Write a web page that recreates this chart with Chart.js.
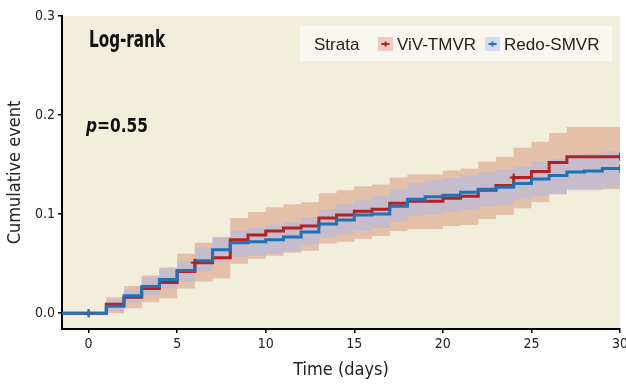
<!DOCTYPE html>
<html>
<head>
<meta charset="utf-8">
<script src="https://cdn.jsdelivr.net/npm/chart.js@4.4.1/dist/chart.umd.min.js"></script>
<style>
  html, body { margin: 0; padding: 0; background: #fff; }
  #wrap { width: 626px; height: 389px; }
</style>
</head>
<body>
<div id="wrap"><canvas id="km" width="626" height="389"></canvas></div>
<script>
// Time points (days) where the curves can step
const days = [0, 1, 2, 3, 4, 5, 6, 7, 8, 9, 10, 11, 12, 13, 14, 15, 16, 17, 18, 19, 20, 21, 22, 23, 24, 25, 26, 27, 28, 29, 30];

// ViV-TMVR: cumulative event + 95% CI
const vivEst = [0, 0.009, 0.016, 0.025, 0.031, 0.042, 0.051, 0.056, 0.074, 0.079, 0.083, 0.086, 0.088, 0.096, 0.099, 0.103, 0.105, 0.111, 0.113, 0.113, 0.116, 0.118, 0.124, 0.129, 0.137, 0.143, 0.152, 0.158, 0.158, 0.158, 0.158];
const vivUpper = [0, 0.016, 0.0275, 0.038, 0.046, 0.060, 0.071, 0.077, 0.096, 0.102, 0.107, 0.110, 0.112, 0.121, 0.124, 0.128, 0.130, 0.137, 0.140, 0.140, 0.144, 0.146, 0.153, 0.158, 0.167, 0.173, 0.182, 0.188, 0.188, 0.188, 0.188];
const vivLower = [0, 0, 0.005, 0.011, 0.015, 0.025, 0.032, 0.035, 0.050, 0.055, 0.058, 0.061, 0.063, 0.070, 0.072, 0.075, 0.078, 0.083, 0.085, 0.085, 0.088, 0.089, 0.095, 0.099, 0.106, 0.112, 0.120, 0.125, 0.125, 0.125, 0.125];

// Redo-SMVR: cumulative event + 95% CI
const redoEst = [0, 0.007, 0.0175, 0.027, 0.034, 0.043, 0.053, 0.064, 0.071, 0.072, 0.074, 0.077, 0.082, 0.090, 0.094, 0.099, 0.100, 0.108, 0.115, 0.1175, 0.119, 0.122, 0.125, 0.127, 0.131, 0.1355, 0.139, 0.1425, 0.1435, 0.146, 0.146];
const redoUpper = [0, 0.013, 0.024, 0.036, 0.045, 0.053, 0.066, 0.076, 0.0835, 0.086, 0.0895, 0.092, 0.097, 0.105, 0.110, 0.114, 0.118, 0.125, 0.1315, 0.134, 0.1365, 0.139, 0.142, 0.145, 0.148, 0.153, 0.156, 0.160, 0.161, 0.1635, 0.1635];
const redoLower = [0, 0.002, 0.011, 0.018, 0.025, 0.0315, 0.042, 0.052, 0.057, 0.058, 0.060, 0.063, 0.069, 0.076, 0.0795, 0.083, 0.086, 0.092, 0.098, 0.0995, 0.102, 0.1045, 0.108, 0.1095, 0.115, 0.118, 0.120, 0.124, 0.124, 0.1265, 0.1265];

// Censoring marks (days)
const vivCensor = [0, 6, 24, 30];
const redoCensor = [0, 30];

// Axes
const xMin = -1.5, xMax = 30;
const xTicks = [0, 5, 10, 15, 20, 25, 30];
const yMin = -0.016, yMax = 0.3;
const yTicks = [0, 0.1, 0.2, 0.3];
const strataNames = ['ViV-TMVR', 'Redo-SMVR'];

const RED = '#b22222', BLUE = '#2171b5';
const RED_FILL = 'rgba(195, 85, 45, 0.3)';
const BLUE_FILL = 'rgba(170, 183, 240, 0.5)';
const COND = "'DejaVu Sans Condensed', 'Liberation Sans Narrow', sans-serif";
const REGULAR = "'Liberation Sans', Arial, sans-serif";

function pts(vals, startAtAxis) {
  const out = days.map((d, i) => ({ x: d, y: vals[i] }));
  if (startAtAxis) out.unshift({ x: xMin, y: vals[0] });
  return out;
}
function censorPts(cDays, vals) {
  return cDays.map(d => ({ x: d, y: vals[days.indexOf(d)] }));
}

// Cream plot panel
const panelBg = {
  id: 'panelBg',
  beforeDraw(chart) {
    const { ctx, chartArea: a } = chart;
    ctx.save();
    ctx.fillStyle = '#f1eedc';
    ctx.fillRect(a.left, a.top, a.right - a.left, a.bottom - a.top);
    ctx.restore();
  }
};

// narrow text: squeeze horizontally so it fits the given width
function squeezed(ctx, parts, x, y, width) {
  let total = 0;
  parts.forEach(p => { ctx.font = p.font; total += ctx.measureText(p.text).width; });
  const k = width / total;
  ctx.save();
  ctx.translate(x, y);
  ctx.scale(k, 1);
  let cx = 0;
  parts.forEach(p => {
    ctx.font = p.font;
    ctx.fillText(p.text, cx, 0);
    cx += ctx.measureText(p.text).width;
  });
  ctx.restore();
}

// Legend box + log-rank text
const extras = {
  id: 'extras',
  afterDraw(chart) {
    const ctx = chart.ctx;
    ctx.save();
    ctx.fillStyle = '#111';
    ctx.textBaseline = 'alphabetic';
    squeezed(ctx, [{ text: 'Log-rank', font: 'bold 23px ' + COND }], 89, 47, 76);
    squeezed(ctx, [
      { text: 'p', font: 'italic bold 20px ' + COND },
      { text: '=0.55', font: 'bold 20px ' + COND }
    ], 86, 132, 62);

    // legend
    ctx.fillStyle = '#f9f7ef';
    ctx.fillRect(300, 26, 312, 35);
    ctx.font = '17px ' + REGULAR;
    ctx.fillStyle = '#222';
    ctx.fillText('Strata', 314, 50);
    const items = [
      { x: 378, label: strataNames[0], fill: RED_FILL, col: RED },
      { x: 485, label: strataNames[1], fill: BLUE_FILL, col: BLUE }
    ];
    items.forEach(it => {
      ctx.fillStyle = '#fff';
      ctx.fillRect(it.x, 37, 15, 14);
      ctx.fillStyle = it.fill;
      ctx.fillRect(it.x, 37, 15, 14);
      ctx.strokeStyle = it.col;
      ctx.lineWidth = 2;
      ctx.beginPath();
      ctx.moveTo(it.x + 3.5, 44); ctx.lineTo(it.x + 11.5, 44);
      ctx.moveTo(it.x + 7.5, 41.5); ctx.lineTo(it.x + 7.5, 46.5);
      ctx.stroke();
      ctx.fillStyle = '#222';
      ctx.fillText(it.label, it.x + 19, 50);
    });
    ctx.restore();
  }
};

const band = (data, fill, bg, ord) => ({
  data, fill, backgroundColor: bg, borderWidth: 0, pointRadius: 0,
  stepped: true, order: ord
});

new Chart(document.getElementById('km'), {
  type: 'line',
  data: {
    datasets: [
      band(pts(vivUpper), '+1', RED_FILL, 5),
      band(pts(vivLower), false, 'transparent', 5),
      band(pts(redoUpper), '+1', BLUE_FILL, 4),
      band(pts(redoLower), false, 'transparent', 4),
      { label: strataNames[0], data: pts(vivEst, true), borderColor: RED, borderWidth: 3,
        pointRadius: 0, stepped: true, fill: false, order: 3 },
      { label: strataNames[1], data: pts(redoEst, true), borderColor: BLUE, borderWidth: 3,
        pointRadius: 0, stepped: true, fill: false, order: 2 },
      { data: censorPts(vivCensor, vivEst), showLine: false, pointStyle: 'cross', pointRadius: 4,
        pointBorderWidth: 2, borderColor: RED, order: 1 },
      { data: censorPts(redoCensor, redoEst), showLine: false, pointStyle: 'cross', pointRadius: 4,
        pointBorderWidth: 2, borderColor: BLUE, order: 0 }
    ]
  },
  options: {
    responsive: false,
    animation: false,
    events: [],
    layout: { padding: { top: 16, right: 5, bottom: 0, left: 0 } },
    plugins: { legend: { display: false }, tooltip: { enabled: false } },
    scales: {
      x: {
        type: 'linear', min: xMin, max: xMax,
        afterBuildTicks: s => { s.ticks = xTicks.map(v => ({ value: v })); },
        ticks: { padding: 3, color: '#222', font: { family: COND, size: 14 } },
        grid: { drawOnChartArea: false, drawTicks: true, tickLength: 4, color: '#000', lineWidth: 1.5 },
        border: { display: true, color: '#000', width: 2 },
        title: { display: true, text: 'Time (days)', color: '#222', font: { family: COND, size: 18 },
          padding: { top: 0, bottom: 8 } },
        afterFit: s => { s.height = 60; s.paddingLeft = 0; s.paddingRight = 0; }
      },
      y: {
        type: 'linear', min: yMin, max: yMax,
        afterBuildTicks: s => { s.ticks = yTicks.map(v => ({ value: v })); },
        ticks: { padding: 3, color: '#222', font: { family: COND, size: 14 },
          callback: v => v.toFixed(1) },
        grid: { drawOnChartArea: false, drawTicks: true, tickLength: 4, color: '#000', lineWidth: 1.5 },
        border: { display: true, color: '#000', width: 2 },
        title: { display: true, text: 'Cumulative event', color: '#222', font: { family: COND, size: 18 },
          padding: { top: 5, bottom: 0 } },
        afterFit: s => { s.width = 62; s.paddingTop = 0; s.paddingBottom = 0; }
      }
    }
  },
  plugins: [panelBg, extras]
});
</script>
</body>
</html>
